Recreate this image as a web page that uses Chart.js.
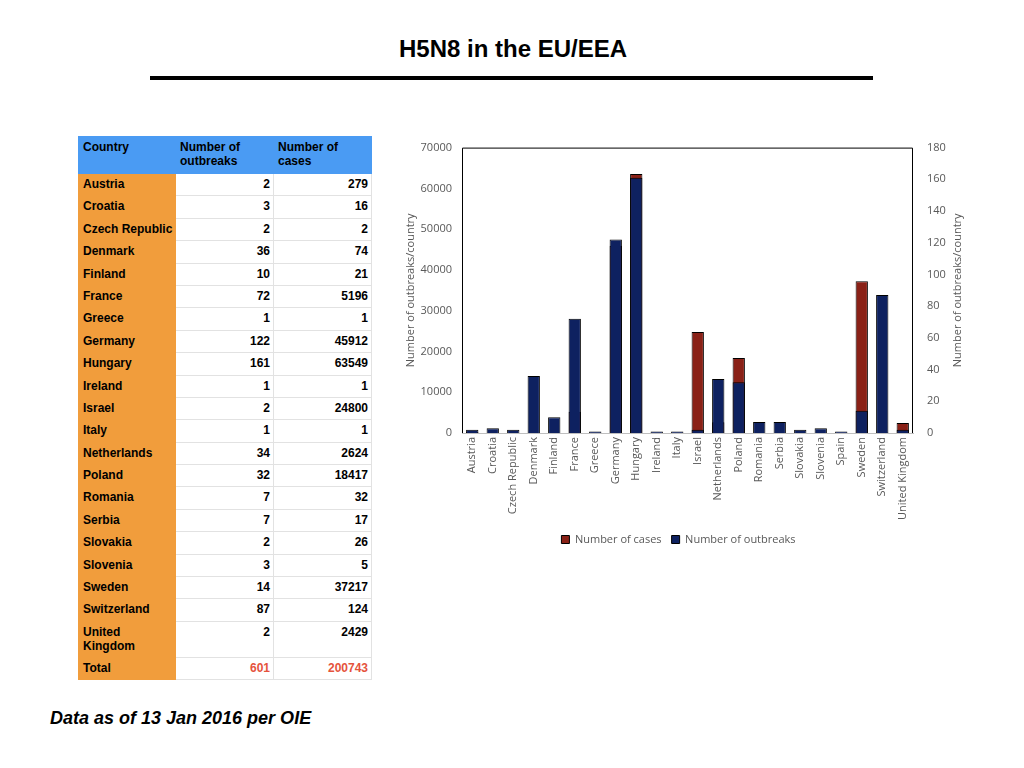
<!DOCTYPE html>
<html>
<head>
<meta charset="utf-8">
<script src="https://cdn.jsdelivr.net/npm/chart.js@4"></script>
<style>
body { margin:0; background:#fff; font-family:"Liberation Sans", Arial, sans-serif; }
#title { position:absolute; left:0; width:1026px; top:35px; text-align:center; font-size:24px; font-weight:bold; }
#rule { position:absolute; left:150px; top:76px; width:723px; height:4px; background:#000; }
#tbl { position:absolute; left:78px; top:136px; border-collapse:collapse; font-size:12px; font-weight:bold; }
#tbl td, #tbl th { padding:3px 3px 0 4px; vertical-align:top; border:1px solid #e2e2e2; height:18.4px; white-space:nowrap; }
#tbl th { background:#4A9BF3; text-align:left; height:33px; border-color:#4A9BF3; font-weight:bold; }
#tbl td.c { background:#F19D3C; width:92px; border-color:#F19D3C; padding-right:0; }
#tbl td.n { text-align:right; width:90px; padding-right:3px; }
#tbl tr.big td { height:32px; }
#tbl tr.tot td.n { color:#E5533C; }
#note { position:absolute; left:50px; top:708px; font-size:18px; font-weight:bold; font-style:italic; }
#wrap { position:absolute; left:402px; top:127px; }
</style>
</head>
<body>
<div id="title">H5N8 in the EU/EEA</div>
<div id="rule"></div>
<table id="tbl"></table>
<div id="wrap"><canvas id="myChart" width="571" height="428"></canvas></div>
<div id="note">Data as of 13 Jan 2016 per OIE</div>
<script>
// table data
const tableCountries = ["Austria","Croatia","Czech Republic","Denmark","Finland","France","Greece","Germany","Hungary","Ireland","Israel","Italy","Netherlands","Poland","Romania","Serbia","Slovakia","Slovenia","Sweden","Switzerland","United Kingdom"];
const tableOutbreaks = [2,3,2,36,10,72,1,122,161,1,2,1,34,32,7,7,2,3,14,87,2];
const tableCases = [279,16,2,74,21,5196,1,45912,63549,1,24800,1,2624,18417,32,17,26,5,37217,124,2429];

// chart data
const countries = ["Austria","Croatia","Czech Republic","Denmark","Finland","France","Greece","Germany","Hungary","Ireland","Italy","Israel","Netherlands","Poland","Romania","Serbia","Slovakia","Slovenia","Spain","Sweden","Switzerland","United Kingdom"];
const cases = [279,16,2,74,21,5196,1,45912,63549,1,1,24800,2624,18417,32,17,26,5,1,37217,124,2429];
const outbreaks = [2,3,2,36,10,72,1,122,161,1,1,2,34,32,7,7,2,3,1,14,87,2];

// build the table
const tbl = document.getElementById("tbl");
let html = "<tr><th>Country</th><th>Number of<br>outbreaks</th><th>Number of<br>cases</th></tr>";
tableCountries.forEach((c, i) => {
    const name = c === "United Kingdom" ? "United<br>Kingdom" : c;
    html += "<tr" + (c === "United Kingdom" ? " class='big'" : "") + "><td class='c'>" + name + "</td><td class='n'>" + tableOutbreaks[i] + "</td><td class='n'>" + tableCases[i] + "</td></tr>";
});
const totOut = tableOutbreaks.reduce((a, b) => a + b, 0);
const totCases = tableCases.reduce((a, b) => a + b, 0);
html += "<tr class='tot'><td class='c'>Total</td><td class='n'>" + totOut + "</td><td class='n'>" + totCases + "</td></tr>";
tbl.innerHTML = html;

const tickFont = { family: "'Open Sans', sans-serif", size: 11 };
const rightTitle = "Number of outbreaks/country";

// frame round the plot area + right axis title reading upwards
const frame = {
    id: "frame",
    afterDatasetsDraw(chart) {
        const a = chart.chartArea, c = chart.ctx;
        c.save();
        c.strokeStyle = "#000";
        c.lineWidth = 1;
        c.beginPath();
        c.moveTo(a.left + 0.5, a.bottom);
        c.lineTo(a.left + 0.5, a.top + 0.5);
        c.lineTo(a.right - 0.5, a.top + 0.5);
        c.lineTo(a.right - 0.5, a.bottom);
        c.stroke();
        c.translate(a.right + 45, (a.top + a.bottom) / 2);
        c.rotate(-Math.PI / 2);
        c.fillStyle = "#595959";
        c.font = "11px 'Open Sans', sans-serif";
        c.textAlign = "center";
        c.textBaseline = "middle";
        c.fillText(rightTitle, 0, 0);
        c.restore();
    }
};

const ctx = document.getElementById("myChart").getContext("2d");
const myChart = new Chart(ctx, {
    type: "bar",
    data: {
        labels: countries,
        datasets: [
            {
                label: "Number of cases",
                data: cases,
                yAxisID: "y",
                backgroundColor: "#8A2117",
                borderColor: "#000",
                borderWidth: 1,
                grouped: false,
                order: 1,
                barPercentage: 0.6,
                categoryPercentage: 1,
            },
            {
                label: "Number of outbreaks",
                data: outbreaks,
                yAxisID: "y2",
                backgroundColor: "#0E2160",
                borderColor: "#000",
                borderWidth: 1,
                grouped: false,
                order: 0,
                barPercentage: 0.6,
                categoryPercentage: 1,
            },
        ],
    },
    options: {
        responsive: false,
        animation: false,
        layout: { padding: { top: 2, left: 2, right: 20, bottom: 0 } },
        plugins: {
            legend: {
                position: "bottom",
                labels: {
                    boxWidth: 8,
                    boxHeight: 8,
                    color: "#595959",
                    font: tickFont,
                    padding: 10,
                    sort: (a, b) => a.datasetIndex - b.datasetIndex,
                },
            },
            tooltip: { enabled: false },
        },
        scales: {
            x: {
                grid: { display: false, drawTicks: false },
                border: { color: "#bfbfbf" },
                ticks: { color: "#595959", font: tickFont, maxRotation: 90, minRotation: 90, autoSkip: false, padding: 4 },
            },
            y: {
                position: "left",
                min: 0,
                max: 70000,
                afterFit: (s) => { s.width = 58; },
                grid: { display: false, drawTicks: false },
                border: { display: false },
                ticks: { stepSize: 10000, color: "#595959", font: tickFont, padding: 10, callback: (v) => v },
                title: { display: true, text: "Number of outbreaks/country", color: "#595959", font: tickFont, padding: 0 },
            },
            y2: {
                position: "right",
                min: 0,
                max: 180,
                afterFit: (s) => { s.width = 40; },
                grid: { display: false, drawTicks: false },
                border: { display: false },
                ticks: { stepSize: 20, color: "#595959", font: tickFont, padding: 14, callback: (v) => v },
            },
        },
    },
    plugins: [frame],
});
</script>
</body>
</html>
